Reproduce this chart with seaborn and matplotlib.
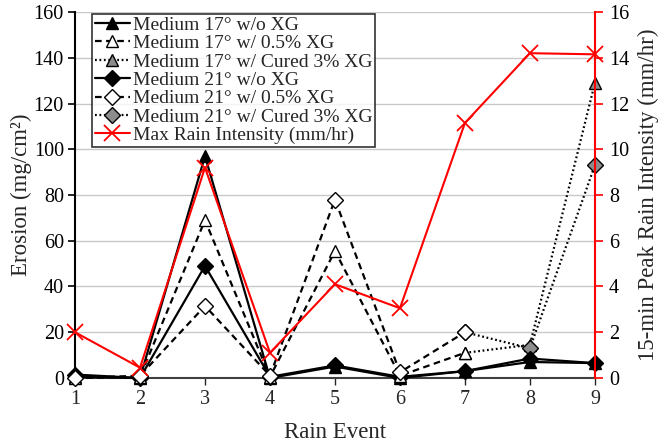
import numpy as np
import pandas as pd
import matplotlib
matplotlib.use("Agg")
import matplotlib.pyplot as plt
import seaborn as sns

sns.set_style("white")
plt.rcParams["font.family"] = ["Liberation Serif", "DejaVu Serif"]

# data
events = [1, 2, 3, 4, 5, 6, 7, 8, 9]
m17_no_xg = [0.5, 0.0, 97, 0.0, 5.0, 0.0, 3.0, 7.0, 6.5]
m17_05_xg = [0.0, 0.5, 69, 0.5, 55.5, 1.0, 11, np.nan, np.nan]
m17_cured = [np.nan, np.nan, np.nan, np.nan, np.nan, np.nan, 11, 14.5, 129]
m21_no_xg = [1.5, 0.0, 49, 0.5, 5.5, 0.5, 3.0, 8.5, 6.5]
m21_05_xg = [0.0, 1.0, 31.5, 1.0, 78, 2.5, 20, np.nan, np.nan]
m21_cured = [np.nan, np.nan, np.nan, np.nan, np.nan, np.nan, 20, 13, 93]
rain = [2.0, 0.45, 9.2, 1.1, 4.1, 3.05, 11.15, 14.2, 14.15]

fig = plt.figure(figsize=(6.61, 4.45), dpi=100)
ax = fig.add_axes([0.1135, 0.1506, 0.7865, 0.8224])
ax2 = ax.twinx()

grey = "#8c8c8c"
series = [
    ("Medium 17° w/o XG", m17_no_xg, "-", "^", "black"),
    ("Medium 17° w/ 0.5% XG", m17_05_xg, (0, (3, 2)), "^", "white"),
    ("Medium 17° w/ Cured 3% XG", m17_cured, (0, (0.8, 1.2)), "^", grey),
    ("Medium 21° w/o XG", m21_no_xg, "-", "D", "black"),
    ("Medium 21° w/ 0.5% XG", m21_05_xg, (0, (3, 2)), "D", "white"),
    ("Medium 21° w/ Cured 3% XG", m21_cured, (0, (0.8, 1.2)), "D", grey),
]
zorders = [4, 5, 3, 4, 5, 3]

handles = []
for (label, vals, ls, mk, fc), z in zip(series, zorders):
    df = pd.DataFrame({"event": events, "erosion": vals}).dropna()
    sns.lineplot(data=df, x="event", y="erosion", ax=ax, color="black",
                 linestyle=ls, linewidth=1.6, marker=mk,
                 markersize=8.5 if mk == "^" else 8,
                 markerfacecolor=fc, markeredgecolor="black",
                 markeredgewidth=1.0, zorder=z, label=label, legend=False,
                 clip_on=False)
    handles.append(ax.lines[-1])

rdf = pd.DataFrame({"event": events, "rain": rain})
sns.lineplot(data=rdf, x="event", y="rain", ax=ax2, color="red",
             linewidth=1.5, marker="x", markersize=11, markeredgewidth=1.3,
             markeredgecolor="red", legend=False, clip_on=False)
handles.append(ax2.lines[-1])
labels = [s[0] for s in series] + ["Max Rain Intensity (mm/hr)"]

ax.set_xlim(1, 9)
ax.set_ylim(0, 160)
ax.set_yticks(range(0, 161, 20))
ax.set_xticks(events)
ax2.set_ylim(0, 16)
ax2.set_yticks(range(0, 17, 2))

ax.yaxis.grid(True, color="#c8c8c8", linewidth=1.0)
ax.set_axisbelow(True)

for sp in ["top", "right"]:
    ax.spines[sp].set_visible(False)
ax2.spines["top"].set_visible(False)
ax2.spines["left"].set_visible(False)
ax2.spines["bottom"].set_visible(False)
ax2.spines["right"].set_color("red")
ax2.spines["right"].set_linewidth(1.5)
ax.spines["left"].set_color("black")
ax.spines["left"].set_linewidth(1.5)
ax.spines["bottom"].set_color("#404040")
ax.spines["bottom"].set_linewidth(1.5)

ax.tick_params(axis="y", direction="out", length=5, width=1.2, colors="black",
               labelsize=14.5, left=True, pad=3)
ax.tick_params(axis="x", direction="out", length=5, width=1.0, labelsize=14.5,
               bottom=True, pad=4)
ax2.tick_params(axis="y", direction="out", length=6, width=1.2, color="red",
                labelcolor="black", labelsize=14.5, pad=4)

ax.set_xlabel("Rain Event", fontsize=16.5, labelpad=9)
ax.set_ylabel("Erosion (mg/cm²)", fontsize=16.5, labelpad=1)
ax2.set_ylabel("15-min Peak Rain Intensity (mm/hr)", fontsize=16.5, labelpad=6)

leg = ax2.legend(handles, labels, loc="upper left", bbox_to_anchor=(0.033, 0.995),
                 fontsize=14, frameon=True, fancybox=False, borderpad=0.12,
                 labelspacing=0.04, handlelength=1.8, handletextpad=0.2,
                 borderaxespad=0.0)
leg.get_frame().set_edgecolor("black")
leg.get_frame().set_linewidth(1.2)

fig.savefig("out.png", dpi=100)
